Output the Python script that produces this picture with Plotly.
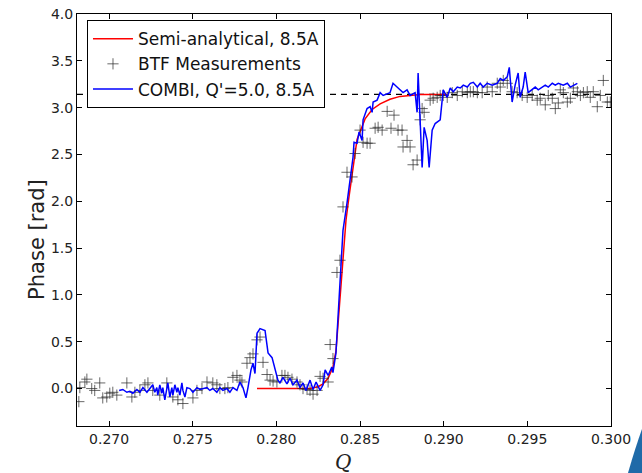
import numpy as np
import plotly.graph_objects as go

# ---- data ----
semi_q = [0.27884, 0.28201, 0.28249, 0.28279, 0.28309, 0.28338, 0.28356, 0.28380, 0.28392,
          0.28404, 0.28416, 0.28434, 0.28452, 0.28482, 0.28530, 0.28572, 0.28620, 0.28679,
          0.28739, 0.28859, 0.29021]
semi_phase = [0.00, 0.00, 0.02, 0.05, 0.11, 0.23, 0.40, 0.94, 1.25,
              1.55, 1.80, 2.05, 2.26, 2.66, 2.88, 2.98, 3.04, 3.09,
              3.12, 3.14, 3.14]

btf_q = [0.26819, 0.26825, 0.26855, 0.26867, 0.26896, 0.26914, 0.26944, 0.26962, 0.26986, 0.27004,
         0.27022, 0.27046, 0.27106, 0.27136, 0.27154, 0.27184, 0.27214, 0.27232, 0.27261, 0.27303,
         0.27345, 0.27381, 0.27411, 0.27441, 0.27501, 0.27525, 0.27555, 0.27585, 0.27620, 0.27644,
         0.27662, 0.27692, 0.27710, 0.27740, 0.27764, 0.27782, 0.27794, 0.27824, 0.27842, 0.27860,
         0.27884, 0.27902, 0.27920, 0.27944, 0.27962, 0.27980, 0.28003, 0.28033, 0.28051, 0.28069,
         0.28093, 0.28123, 0.28141, 0.28159, 0.28183, 0.28201, 0.28219, 0.28243, 0.28261, 0.28279,
         0.28309, 0.28321, 0.28338, 0.28362, 0.28380, 0.28398, 0.28422, 0.28452, 0.28470, 0.28500,
         0.28518, 0.28542, 0.28560, 0.28590, 0.28608, 0.28632, 0.28662, 0.28685, 0.28703, 0.28727,
         0.28751, 0.28757, 0.28781, 0.28799, 0.28817, 0.28841, 0.28859, 0.28871, 0.28883, 0.28919,
         0.28937, 0.28961, 0.28979, 0.28997, 0.29021, 0.29051, 0.29081, 0.29111, 0.29141, 0.29159,
         0.29177, 0.29201, 0.29230, 0.29260, 0.29290, 0.29320, 0.29338, 0.29356, 0.29380, 0.29409,
         0.29439, 0.29469, 0.29499, 0.29529, 0.29559, 0.29577, 0.29607, 0.29625, 0.29649, 0.29667,
         0.29685, 0.29697, 0.29715, 0.29739, 0.29757, 0.29775, 0.29799, 0.29817, 0.29835, 0.29858,
         0.29876, 0.29894, 0.29918, 0.29936, 0.29954, 0.29978, 0.29996]
btf_phase = [-0.14, 0.01, 0.07, 0.10, 0.00, -0.02, 0.06, -0.10, -0.09, -0.05,
             -0.04, -0.07, 0.06, -0.09, -0.04, -0.02, 0.04, 0.06, -0.02, -0.07,
             0.06, -0.09, -0.12, -0.16, -0.10, -0.02, 0.00, 0.07, 0.06, 0.04,
             0.00, 0.00, 0.01, 0.12, 0.14, 0.09, 0.07, 0.27, 0.33, 0.37,
             0.52, 0.55, 0.28, 0.15, 0.09, 0.08, 0.07, 0.14, 0.14, 0.12,
             0.10, 0.07, 0.04, 0.00, -0.01, -0.02, -0.06, -0.02, 0.13, 0.11,
             0.07, 0.47, 0.32, 1.24, 1.37, 1.94, 2.31, 2.26, 2.51, 2.76,
             2.63, 2.62, 2.62, 2.78, 2.79, 2.76, 2.96, 2.78, 2.92, 2.76,
             2.76, 2.58, 2.65, 2.58, 2.39, 2.44, 2.87, 2.99, 2.95, 3.08,
             3.10, 3.11, 3.13, 3.13, 3.11, 3.16, 3.13, 3.17, 3.16, 3.17,
             3.17, 3.16, 3.16, 3.22, 3.17, 3.26, 3.22, 3.29, 3.26, 3.17,
             3.16, 3.13, 3.11, 3.13, 3.08, 3.10, 3.03, 3.13, 3.10, 2.99,
             3.05, 3.19, 3.16, 3.06, 3.10, 3.21, 3.17, 3.13, 3.16, 3.17,
             3.11, 3.17, 3.01, 3.13, 3.29, 3.06, 3.06]

combi_q = [0.27060, 0.27082, 0.27106, 0.27124, 0.27142, 0.27166, 0.27184, 0.27202, 0.27226, 0.27244,
           0.27261, 0.27273, 0.27285, 0.27291, 0.27303, 0.27315, 0.27321, 0.27333, 0.27345, 0.27351,
           0.27363, 0.27375, 0.27381, 0.27393, 0.27405, 0.27411, 0.27423, 0.27435, 0.27441, 0.27453,
           0.27465, 0.27483, 0.27501, 0.27525, 0.27543, 0.27561, 0.27585, 0.27602, 0.27620, 0.27644,
           0.27662, 0.27680, 0.27704, 0.27722, 0.27740, 0.27764, 0.27782, 0.27800, 0.27818, 0.27830,
           0.27848, 0.27860, 0.27872, 0.27884, 0.27902, 0.27932, 0.27950, 0.27974, 0.27992, 0.28003,
           0.28009, 0.28021, 0.28039, 0.28063, 0.28081, 0.28099, 0.28123, 0.28141, 0.28159, 0.28177,
           0.28201, 0.28219, 0.28237, 0.28261, 0.28279, 0.28291, 0.28309, 0.28331, 0.28338, 0.28356,
           0.28368, 0.28380, 0.28398, 0.28422, 0.28440, 0.28458, 0.28464, 0.28482, 0.28494, 0.28512,
           0.28518, 0.28542, 0.28560, 0.28572, 0.28578, 0.28602, 0.28620, 0.28638, 0.28679, 0.28697,
           0.28721, 0.28739, 0.28757, 0.28781, 0.28799, 0.28829, 0.28841, 0.28847, 0.28859, 0.28871,
           0.28883, 0.28901, 0.28913, 0.28931, 0.28949, 0.28979, 0.28997, 0.29021, 0.29039, 0.29057,
           0.29081, 0.29099, 0.29117, 0.29141, 0.29159, 0.29177, 0.29201, 0.29218, 0.29236, 0.29260,
           0.29290, 0.29320, 0.29338, 0.29356, 0.29380, 0.29392, 0.29409, 0.29427, 0.29445, 0.29457,
           0.29475, 0.29487, 0.29505, 0.29529, 0.29547, 0.29565, 0.29589, 0.29607, 0.29625, 0.29649,
           0.29667, 0.29685, 0.29715, 0.29739, 0.29757, 0.29775, 0.29799]
combi_phase = [-0.02, -0.01, -0.04, -0.03, -0.05, -0.01, -0.04, 0.01, -0.04, 0.00,
               0.04, -0.04, 0.01, -0.07, 0.04, -0.05, 0.01, -0.12, 0.00, 0.06,
               -0.09, 0.01, -0.07, 0.04, -0.04, 0.01, -0.07, 0.06, -0.02, -0.09,
               0.01, 0.00, -0.04, 0.01, -0.01, 0.00, 0.01, -0.02, 0.00, -0.04,
               0.01, -0.02, 0.00, -0.04, 0.01, -0.02, 0.07, 0.01, -0.10, 0.01,
               0.20, 0.27, 0.16, 0.59, 0.64, 0.62, 0.38, 0.33, 0.20, 0.12,
               0.09, 0.06, 0.12, 0.05, 0.11, 0.04, 0.09, 0.01, 0.06, -0.02,
               0.09, -0.01, 0.07, -0.02, 0.04, 0.20, 0.14, 0.23, 0.17, 0.38,
               0.73, 1.05, 1.69, 1.98, 2.23, 2.47, 2.63, 2.62, 2.74, 2.65,
               2.87, 2.99, 3.01, 2.95, 3.06, 3.08, 3.16, 3.13, 3.16, 3.26,
               3.22, 3.19, 3.16, 3.19, 3.13, 3.16, 2.95, 3.37, 2.87, 2.36,
               2.79, 2.65, 2.36, 2.76, 2.83, 2.87, 3.19, 3.11, 3.21, 3.17,
               3.22, 3.21, 3.24, 3.22, 3.26, 3.27, 3.22, 3.26, 3.22, 3.26,
               3.24, 3.26, 3.31, 3.29, 3.33, 3.43, 3.06, 3.24, 3.37, 3.11,
               3.22, 3.38, 3.16, 3.19, 3.22, 3.19, 3.22, 3.24, 3.22, 3.26,
               3.24, 3.26, 3.24, 3.26, 3.22, 3.24, 3.26]

x_range = [0.26808, 0.300]
y_range = [-0.4, 4.0]
x_ticks = [0.270, 0.275, 0.280, 0.285, 0.290, 0.295, 0.300]
y_ticks = [0.0, 0.5, 1.0, 1.5, 2.0, 2.5, 3.0, 3.5, 4.0]
pi_level = np.pi

fig = go.Figure()
fig.add_trace(go.Scatter(x=semi_q, y=semi_phase, mode="lines", name="Semi-analytical, 8.5A",
                         line=dict(color="#ff0000", width=1.5)))
fig.add_trace(go.Scatter(x=btf_q, y=btf_phase, mode="markers", name="BTF Measurements",
                         marker=dict(symbol="cross-thin", size=8,
                                     line=dict(width=1, color="rgba(40,40,40,0.7)"))))
fig.add_trace(go.Scatter(x=combi_q, y=combi_phase, mode="lines", name="COMBI, Q'=5.0, 8.5A",
                         line=dict(color="#0000ff", width=1.5)))

fig.add_shape(type="line", xref="x domain", yref="y", x0=0, x1=1, y0=pi_level, y1=pi_level,
              line=dict(color="black", width=1.2, dash="6px,5px"), layer="below")

# decorative slide swoosh at bottom right
fig.add_shape(type="path", xref="paper", yref="paper",
              path="M 1.0318 -0.114 Q 1.046 -0.05 1.0600 0.000 L 1.0805 0.000 L 1.0805 -0.114 Z",
              fillcolor="#1f6aa8", line=dict(width=0), layer="above")

axis_common = dict(showline=True, linecolor="black", linewidth=1, mirror="ticks",
                   ticks="inside", ticklen=5, tickcolor="black", showgrid=False, zeroline=False,
                   automargin=False,
                   tickfont=dict(family="DejaVu Sans", size=14, color="#222"))

fig.update_xaxes(range=x_range, tickvals=x_ticks, ticktext=[f"{v:.3f}" for v in x_ticks],
                 **axis_common)
fig.update_yaxes(range=y_range, tickvals=y_ticks, ticktext=[f"{v:.1f}" for v in y_ticks],
                 **axis_common)

fig.add_annotation(text="Phase [rad]", xref="paper", yref="paper", x=-0.075, y=0.454,
                   textangle=-90, showarrow=False, xanchor="center", yanchor="middle",
                   font=dict(family="DejaVu Sans", size=21, color="#222"))
fig.add_annotation(text="<i>Q</i>", xref="paper", yref="paper", x=0.498, y=-0.0874,
                   showarrow=False, xanchor="center", yanchor="middle",
                   font=dict(family="DejaVu Serif", size=20, color="#222"))

fig.update_layout(
    width=642, height=473,
    margin=dict(l=77, r=31, t=14, b=47, autoexpand=False),
    paper_bgcolor="white", plot_bgcolor="white",
    showlegend=True,
    legend=dict(x=0.0187, y=0.985, xanchor="left", yanchor="top",
                bgcolor="white", bordercolor="black", borderwidth=1,
                font=dict(family="DejaVu Sans", size=17, color="#111"),
                itemwidth=40),
)

fig.write_html("out.html")
